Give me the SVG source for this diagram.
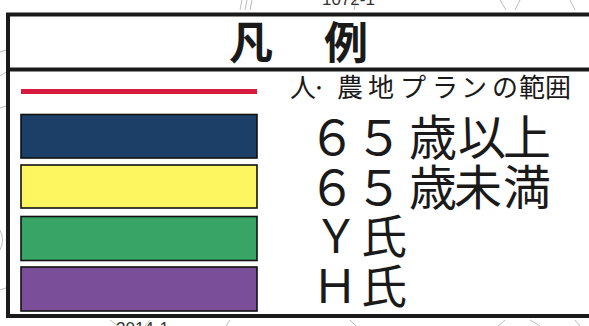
<svg xmlns="http://www.w3.org/2000/svg" width="589" height="326" viewBox="0 0 589 326">
<style>
.frame{fill:none;stroke:#1a1a1a;stroke-width:4}
.sw{stroke:#111;stroke-width:1.6}
.t{font-family:"Noto Sans CJK JP","Noto Sans",sans-serif;fill:#1a1a1a;text-anchor:middle}
.title{font-size:44px;font-weight:bold}
.lab{font-size:26px}
.big{font-size:48px}
.mid{font-size:46px}
.map{font-family:"Liberation Sans",sans-serif;font-size:17px;fill:#333}
.sk{fill:none;stroke:#bbb;stroke-width:1}
</style>
<rect width="589" height="326" fill="#fff"/>
<g id="background">
<path class="sk" d="M242 0 L240 10 M247 0 L245 10 M252 0 L250 10 M356 0 L354 10 M500 0 L506 10 M520 0 L515 10 M570 0 L575 10"/>
<path class="sk" d="M0 52 L6 50 M0 76 L6 72 M0 108 L6 106 M0 230 Q5 240 0 250 M0 290 L6 288"/>
<path class="sk" d="M110 320 L118 326 M150 320 L145 326 M230 320 L226 326 M350 320 L356 326 M505 320 L498 326 M530 320 L540 326 M575 320 L580 326"/>
<text class="map" x="322" y="5">1072-1</text>
<text class="map" x="116" y="334">2014-1</text>
</g>
<g id="frame">
<path class="frame" d="M595 14.5 H8 V316 H595"/>
<line class="frame" x1="8" y1="69.5" x2="595" y2="69.5"/>
</g>
<g id="title">
<text class="t title" x="251" y="59">凡</text>
<text class="t title" x="346" y="59">例</text>
</g>
<g id="connectors">
<line x1="21" y1="91.5" x2="257" y2="91.5" stroke="#d61a40" stroke-width="5"/>
</g>
<g id="legend-red">
<text class="t lab" y="97" x="303 319 350 381 413 445 474 505 532 558">人·農地プランの範囲</text>
</g>
<g id="legend-over65">
<rect class="sw" x="21" y="114.5" width="236" height="43.5" fill="#1b3f66"/>
<text class="t big" y="155" x="332 379 433 482 527">６５歳以上</text>
</g>
<g id="legend-under65">
<rect class="sw" x="21" y="165" width="236" height="43" fill="#fdf661"/>
<text class="t big" y="205" x="332 379 433 478 527">６５歳未満</text>
</g>
<g id="legend-y">
<rect class="sw" x="21" y="216.5" width="236" height="44" fill="#38a466"/>
<text class="t mid" y="253" x="336 384">Ｙ氏</text>
</g>
<g id="legend-h">
<rect class="sw" x="21" y="267" width="236" height="44" fill="#7a4e99"/>
<text class="t mid" y="303" x="335 384">Ｈ氏</text>
</g>
</svg>
